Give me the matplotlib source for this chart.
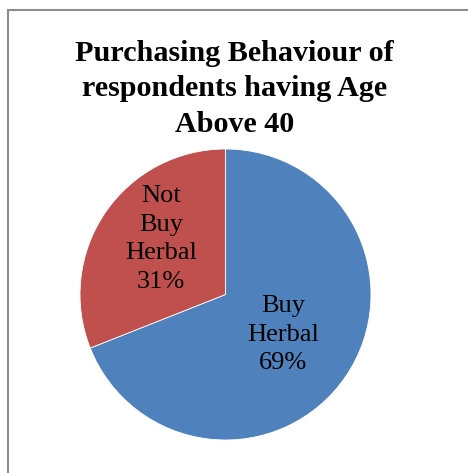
import matplotlib
matplotlib.use("Agg")
import matplotlib.pyplot as plt
from matplotlib.patches import Rectangle

title = "Purchasing Behaviour of\nrespondents having Age\nAbove 40"
categories = ["Buy\nHerbal", "Not\nBuy\nHerbal"]
values = [69, 31]
colors = ["#4F81BD", "#C0504D"]
label_pos = [(0.395, -0.278), (-0.443, 0.381)]

W, H = 468, 473
fig = plt.figure(figsize=(W / 100, H / 100), dpi=100)
fig.patch.set_facecolor("white")

# chart border (only left/top edges visible in crop)
fig.add_artist(Rectangle((8 / W, -0.05), 1.2, (1 - 10 / H) + 0.05,
                         transform=fig.transFigure, fill=False,
                         edgecolor="#8c8c8c", linewidth=1.5))

cx, cy, r = 225.5, 294.5, 145.5
ax = fig.add_axes([(cx - r) / W, (H - cy - r) / H, 2 * r / W, 2 * r / H])
wedges, _ = ax.pie(values, colors=colors, startangle=90, counterclock=False,
                   radius=1, wedgeprops=dict(edgecolor="white", linewidth=0.6))
ax.set_xlim(-1, 1)
ax.set_ylim(-1, 1)
ax.set_aspect("auto")
ax.axis("off")

for cat, v, (lx, ly) in zip(categories, values, label_pos):
    ax.text(lx, ly, f"{cat}\n{v}%", ha="center", va="center",
            family="Liberation Serif", fontsize=19, linespacing=1.38,
            color="black")

fig.text(234.5 / W, 1 - 89 / H, title, ha="center", va="center",
         family="Liberation Serif", fontweight="bold", fontsize=21.7,
         linespacing=1.39)

fig.savefig("out.png", dpi=100)
